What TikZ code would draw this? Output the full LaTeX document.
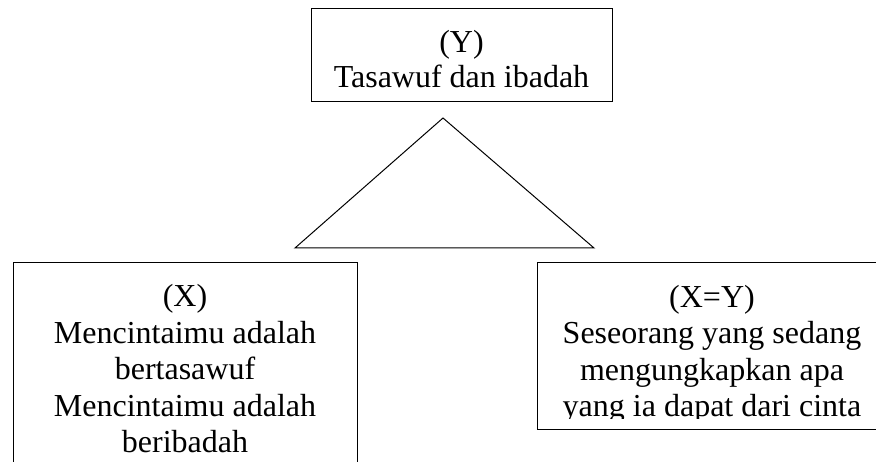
\documentclass[tikz,border=0pt]{standalone}
\usepackage{fontspec}
\setmainfont{Liberation Serif}
\begin{document}
\begin{tikzpicture}[x=1pt,y=-1pt,
  frame/.style={draw=black,line width=1pt,inner sep=0pt},
  boxtext/.style={anchor=base,inner sep=0pt,font=\fontsize{32}{36.5}\selectfont},
  edge/.style={draw=black,line width=1pt,line join=miter}]
\useasboundingbox (0,0) rectangle (876,462);
\clip (0,0) rectangle (876,462);

% upper box: Y
\node[frame,minimum width=301pt,minimum height=93pt] (ybox) at (461.5,55.5) {};
\node[boxtext] (ytext) at (461.5,53)
  {\begin{tabular}[t]{@{}c@{}}(Y)\\[-1.5pt]Tasawuf dan ibadah\end{tabular}};

% triangle below the upper box
\coordinate (apex) at (443,118);
\coordinate (baseL) at (295,248);
\coordinate (baseR) at (594,248);
\draw[edge] (apex) -- (baseL) -- (baseR) -- cycle;

% lower left box: X
\node[frame,minimum width=344pt,minimum height=237pt] (xbox) at (185,381.5) {};
\node[boxtext] (xtext) at (185,307)
  {\begin{tabular}[t]{@{}c@{}}(X)\\Mencintaimu adalah\\bertasawuf\\Mencintaimu adalah\\beribadah\end{tabular}};

% lower right box: X=Y
\node[frame,minimum width=363pt,minimum height=166.5pt] (xybox) at (718.5,346.25) {};
\begin{scope}
  \clip (537,263) rectangle (876,418.5);
  \node[boxtext] (xytext) at (712,307.5)
    {\begin{tabular}[t]{@{}c@{}}(X=Y)\\Seseorang yang sedang\\mengungkapkan apa\\yang ia dapat dari cinta\end{tabular}};
\end{scope}
\end{tikzpicture}
\end{document}
